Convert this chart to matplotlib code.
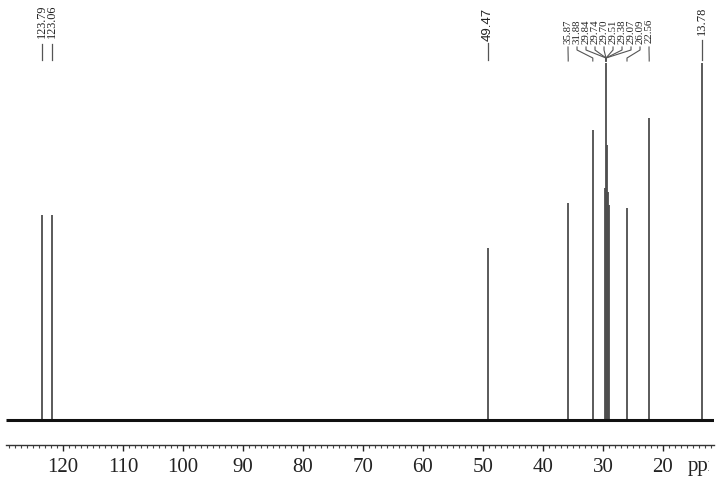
import matplotlib
matplotlib.use("Agg")
import matplotlib.pyplot as plt
import numpy as np
from matplotlib.transforms import Bbox

# peak positions (ppm) and heights (arbitrary units)
peak_ppm = [123.5, 121.8, 49.2, 35.8, 31.7, 29.6, 29.5, 29.4, 29.2, 29.0, 26.0, 22.3, 13.5]
peak_height = [205, 205, 172, 217, 290, 232, 357, 275, 228, 215, 212, 302, 357]

# printed peak labels and the ppm each label's leader points to
single_labels = ["123.79", "123.06", "49.47", "13.78"]
single_label_ppm = [123.5, 121.8, 49.2, 13.5]

cluster_labels = ["35.87", "31.88", "29.84", "29.74", "29.70", "29.51",
                  "29.38", "29.07", "26.09", "22.56"]
cluster_target_ppm = [35.8, 31.7, 29.5, 29.5, 29.5, 29.5, 29.5, 29.5, 26.0, 22.3]

major_ticks = [120, 110, 100, 90, 80, 70, 60, 50, 40, 30, 20]

_PEAK = "#4d4d4d"
_INK = "#111111"

plt.rcParams.update({"font.family": ["Liberation Serif", "DejaVu Serif"]})

fig = plt.figure(figsize=(7.2, 4.8), dpi=100)
ax = fig.add_axes([6 / 720, 35 / 480, 708 / 720, 445 / 480])

x_left, x_right = 129.5, 11.5
ax.set_xlim(x_left, x_right)
ax.set_ylim(-25, 420)

# baseline and peaks
ax.hlines(0, x_left, x_right, color=_INK, linewidth=2.2, zorder=3)
ax.vlines(peak_ppm, 0, peak_height, color=_PEAK, linewidth=1.3, zorder=2)

# axis styling
for side in ("top", "left", "right"):
    ax.spines[side].set_visible(False)
ax.spines["bottom"].set_color("#333333")
ax.spines["bottom"].set_linewidth(1.0)
ax.set_yticks([])
ax.set_xticks(major_ticks)
ax.set_xticklabels([str(t) for t in major_ticks], fontsize=15)
ax.set_xticks(np.arange(12, 130, 1), minor=True)
ax.tick_params(axis="x", which="major", direction="out", length=4, width=1.0,
               pad=5, colors="#222222")
ax.tick_params(axis="x", which="minor", direction="out", length=2, width=0.8,
               colors="#444444")

# unit label is cut off at the right edge in the original
unit = fig.text(688 / 720, 13 / 480, "ppm", ha="left", va="center", fontsize=15,
                color="#222222")
unit.set_clip_box(Bbox.from_extents(0, 0, 709, 480))
unit.set_clip_on(True)


def to_data_y(y_img):
    return 420 - y_img


# isolated peak labels: (text top, leader top) in image pixels
single_sizes = [8.8, 8.8, 9.5, 9.0]
single_top = [4, 4, 8, 7]
single_lead = [44, 44, 43, 40]
for txt, ppm, fs, top, lead in zip(single_labels, single_label_ppm,
                                   single_sizes, single_top, single_lead):
    kw = {"family": ["Liberation Sans", "DejaVu Sans"]} if txt == "49.47" else {}
    ax.text(ppm, to_data_y(top), txt, rotation=90, ha="center", va="top",
            fontsize=fs, color="#222222", clip_on=False, **kw)
    ax.plot([ppm, ppm], [to_data_y(lead), to_data_y(60)], color="#555555",
            linewidth=0.9, clip_on=False)

# crowded aliphatic labels with fanned leaders
label_pos = np.linspace(35.83, 22.33, len(cluster_labels))
for txt, lx, tx in zip(cluster_labels, label_pos, cluster_target_ppm):
    ax.text(lx, to_data_y(19), txt, rotation=90, ha="center", va="top",
            fontsize=7.8, color="#222222", clip_on=False)
    ax.plot([lx, lx, tx, tx],
            [to_data_y(47), to_data_y(50), to_data_y(58), to_data_y(61)],
            color="#555555", linewidth=0.8, clip_on=False)

fig.savefig("out.png", dpi=100)
